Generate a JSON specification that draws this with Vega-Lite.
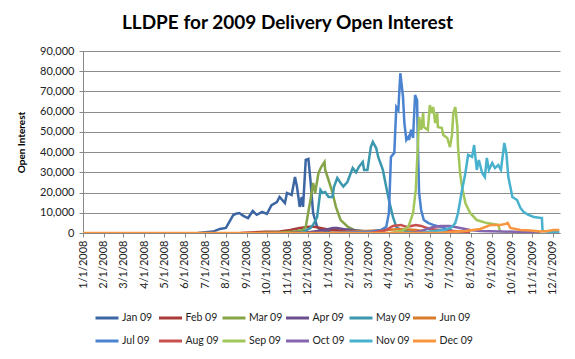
{
"$schema": "https://vega.github.io/schema/vega-lite/v6.json",
"width": 477, "height": 182,
"autosize": {"type": "none"},
"padding": {"left": 83, "top": 51, "right": 15, "bottom": 126},
"background": "white",
"title": {"text": "LLDPE for 2009 Delivery Open Interest", "font": "Lato", "fontSize": 19, "fontWeight": "bold", "color": "#000000", "anchor": "middle", "dx": -34, "offset": 12},
"data": {"values": [
{"s":"Jan 09","d":"2008-06-20","v":0},{"s":"Jan 09","d":"2008-07-13","v":700},{"s":"Jan 09","d":"2008-07-23","v":2000},{"s":"Jan 09","d":"2008-08-01","v":2500},{"s":"Jan 09","d":"2008-08-07","v":6000},{"s":"Jan 09","d":"2008-08-12","v":8900},{"s":"Jan 09","d":"2008-08-16","v":9500},{"s":"Jan 09","d":"2008-08-21","v":9900},{"s":"Jan 09","d":"2008-08-27","v":8500},{"s":"Jan 09","d":"2008-09-03","v":7400},{"s":"Jan 09","d":"2008-09-10","v":10900},{"s":"Jan 09","d":"2008-09-16","v":9000},{"s":"Jan 09","d":"2008-09-24","v":10400},{"s":"Jan 09","d":"2008-10-01","v":9400},{"s":"Jan 09","d":"2008-10-08","v":13800},{"s":"Jan 09","d":"2008-10-16","v":15300},{"s":"Jan 09","d":"2008-10-20","v":17800},{"s":"Jan 09","d":"2008-10-28","v":14800},{"s":"Jan 09","d":"2008-10-31","v":19800},{"s":"Jan 09","d":"2008-11-07","v":18800},{"s":"Jan 09","d":"2008-11-12","v":27700},{"s":"Jan 09","d":"2008-11-15","v":22800},{"s":"Jan 09","d":"2008-11-19","v":12900},{"s":"Jan 09","d":"2008-11-22","v":17800},{"s":"Jan 09","d":"2008-11-24","v":12900},{"s":"Jan 09","d":"2008-11-28","v":36100},{"s":"Jan 09","d":"2008-12-02","v":36600},{"s":"Jan 09","d":"2008-12-05","v":26200},{"s":"Jan 09","d":"2008-12-09","v":9900},{"s":"Jan 09","d":"2008-12-15","v":3000},{"s":"Jan 09","d":"2008-12-20","v":1500},{"s":"Jan 09","d":"2008-12-27","v":800},{"s":"Jan 09","d":"2009-01-04","v":400},
{"s":"Feb 09","d":"2008-08-23","v":0},{"s":"Feb 09","d":"2008-09-07","v":300},{"s":"Feb 09","d":"2008-09-29","v":600},{"s":"Feb 09","d":"2008-10-20","v":800},{"s":"Feb 09","d":"2008-11-05","v":1500},{"s":"Feb 09","d":"2008-11-19","v":2500},{"s":"Feb 09","d":"2008-11-30","v":3000},{"s":"Feb 09","d":"2008-12-09","v":3200},{"s":"Feb 09","d":"2008-12-20","v":2500},{"s":"Feb 09","d":"2009-01-04","v":1500},{"s":"Feb 09","d":"2009-01-19","v":1200},{"s":"Feb 09","d":"2009-02-02","v":500},
{"s":"Mar 09","d":"2008-09-21","v":0},{"s":"Mar 09","d":"2008-10-20","v":300},{"s":"Mar 09","d":"2008-11-12","v":800},{"s":"Mar 09","d":"2008-11-24","v":1500},{"s":"Mar 09","d":"2008-11-28","v":3000},{"s":"Mar 09","d":"2008-12-05","v":16300},{"s":"Mar 09","d":"2008-12-09","v":24700},{"s":"Mar 09","d":"2008-12-12","v":19800},{"s":"Mar 09","d":"2008-12-17","v":29700},{"s":"Mar 09","d":"2008-12-21","v":32600},{"s":"Mar 09","d":"2008-12-26","v":35100},{"s":"Mar 09","d":"2008-12-27","v":31200},{"s":"Mar 09","d":"2009-01-01","v":26200},{"s":"Mar 09","d":"2009-01-07","v":19800},{"s":"Mar 09","d":"2009-01-12","v":12900},{"s":"Mar 09","d":"2009-01-19","v":6400},{"s":"Mar 09","d":"2009-01-30","v":3000},{"s":"Mar 09","d":"2009-02-08","v":1500},{"s":"Mar 09","d":"2009-02-19","v":1000},{"s":"Mar 09","d":"2009-03-01","v":500},
{"s":"Apr 09","d":"2008-11-05","v":0},{"s":"Apr 09","d":"2008-12-05","v":500},{"s":"Apr 09","d":"2008-12-27","v":1500},{"s":"Apr 09","d":"2009-01-07","v":2500},{"s":"Apr 09","d":"2009-01-14","v":2500},{"s":"Apr 09","d":"2009-01-26","v":1800},{"s":"Apr 09","d":"2009-02-11","v":1200},{"s":"Apr 09","d":"2009-03-01","v":800},{"s":"Apr 09","d":"2009-03-26","v":400},
{"s":"May 09","d":"2008-11-19","v":0},{"s":"May 09","d":"2008-11-26","v":800},{"s":"May 09","d":"2008-12-05","v":2500},{"s":"May 09","d":"2008-12-09","v":4000},{"s":"May 09","d":"2008-12-15","v":7900},{"s":"May 09","d":"2008-12-20","v":21300},{"s":"May 09","d":"2008-12-23","v":19800},{"s":"May 09","d":"2008-12-27","v":20300},{"s":"May 09","d":"2009-01-01","v":17800},{"s":"May 09","d":"2009-01-07","v":17800},{"s":"May 09","d":"2009-01-09","v":22700},{"s":"May 09","d":"2009-01-14","v":27200},{"s":"May 09","d":"2009-01-19","v":24700},{"s":"May 09","d":"2009-01-23","v":23000},{"s":"May 09","d":"2009-01-29","v":25200},{"s":"May 09","d":"2009-02-06","v":32100},{"s":"May 09","d":"2009-02-11","v":30000},{"s":"May 09","d":"2009-02-15","v":32600},{"s":"May 09","d":"2009-02-21","v":35100},{"s":"May 09","d":"2009-02-23","v":31200},{"s":"May 09","d":"2009-02-28","v":31200},{"s":"May 09","d":"2009-03-05","v":42500},{"s":"May 09","d":"2009-03-08","v":45000},{"s":"May 09","d":"2009-03-13","v":42000},{"s":"May 09","d":"2009-03-16","v":37600},{"s":"May 09","d":"2009-03-23","v":31200},{"s":"May 09","d":"2009-03-28","v":22700},{"s":"May 09","d":"2009-04-01","v":16300},{"s":"May 09","d":"2009-04-07","v":7900},{"s":"May 09","d":"2009-04-12","v":3000},{"s":"May 09","d":"2009-04-19","v":1500},{"s":"May 09","d":"2009-05-01","v":800},{"s":"May 09","d":"2009-05-11","v":300},
{"s":"Jun 09","d":"2009-01-04","v":0},{"s":"Jun 09","d":"2009-01-26","v":500},{"s":"Jun 09","d":"2009-02-25","v":1000},{"s":"Jun 09","d":"2009-03-28","v":1500},{"s":"Jun 09","d":"2009-04-19","v":2000},{"s":"Jun 09","d":"2009-05-11","v":1500},{"s":"Jun 09","d":"2009-05-26","v":800},
{"s":"Jul 09","d":"2009-01-04","v":0},{"s":"Jul 09","d":"2009-02-02","v":300},{"s":"Jul 09","d":"2009-03-05","v":800},{"s":"Jul 09","d":"2009-03-20","v":1500},{"s":"Jul 09","d":"2009-03-28","v":3000},{"s":"Jul 09","d":"2009-04-01","v":9900},{"s":"Jul 09","d":"2009-04-04","v":37600},{"s":"Jul 09","d":"2009-04-09","v":39600},{"s":"Jul 09","d":"2009-04-12","v":62300},{"s":"Jul 09","d":"2009-04-15","v":60800},{"s":"Jul 09","d":"2009-04-18","v":79000},{"s":"Jul 09","d":"2009-04-22","v":67300},{"s":"Jul 09","d":"2009-04-24","v":54400},{"s":"Jul 09","d":"2009-04-27","v":46000},{"s":"Jul 09","d":"2009-04-30","v":47500},{"s":"Jul 09","d":"2009-05-01","v":46000},{"s":"Jul 09","d":"2009-05-04","v":51000},{"s":"Jul 09","d":"2009-05-07","v":47000},{"s":"Jul 09","d":"2009-05-08","v":54400},{"s":"Jul 09","d":"2009-05-10","v":68200},{"s":"Jul 09","d":"2009-05-13","v":65700},{"s":"Jul 09","d":"2009-05-14","v":46000},{"s":"Jul 09","d":"2009-05-16","v":19800},{"s":"Jul 09","d":"2009-05-19","v":11400},{"s":"Jul 09","d":"2009-05-23","v":6400},{"s":"Jul 09","d":"2009-05-30","v":4900},{"s":"Jul 09","d":"2009-06-06","v":4000},{"s":"Jul 09","d":"2009-06-17","v":3000},{"s":"Jul 09","d":"2009-07-01","v":1500},{"s":"Jul 09","d":"2009-07-08","v":500},
{"s":"Aug 09","d":"2009-03-05","v":0},{"s":"Aug 09","d":"2009-03-28","v":1500},{"s":"Aug 09","d":"2009-04-07","v":3500},{"s":"Aug 09","d":"2009-04-19","v":4000},{"s":"Aug 09","d":"2009-04-27","v":3000},{"s":"Aug 09","d":"2009-05-04","v":3500},{"s":"Aug 09","d":"2009-05-11","v":4000},{"s":"Aug 09","d":"2009-05-19","v":3500},{"s":"Aug 09","d":"2009-06-01","v":2000},{"s":"Aug 09","d":"2009-06-24","v":1200},{"s":"Aug 09","d":"2009-07-16","v":800},{"s":"Aug 09","d":"2009-07-31","v":400},
{"s":"Sep 09","d":"2009-04-04","v":0},{"s":"Sep 09","d":"2009-04-19","v":1000},{"s":"Sep 09","d":"2009-04-30","v":3000},{"s":"Sep 09","d":"2009-05-07","v":9900},{"s":"Sep 09","d":"2009-05-11","v":21300},{"s":"Sep 09","d":"2009-05-14","v":42500},{"s":"Sep 09","d":"2009-05-16","v":57400},{"s":"Sep 09","d":"2009-05-19","v":51000},{"s":"Sep 09","d":"2009-05-22","v":59300},{"s":"Sep 09","d":"2009-05-23","v":52400},{"s":"Sep 09","d":"2009-05-29","v":51000},{"s":"Sep 09","d":"2009-06-01","v":63300},{"s":"Sep 09","d":"2009-06-04","v":59300},{"s":"Sep 09","d":"2009-06-06","v":62300},{"s":"Sep 09","d":"2009-06-09","v":54400},{"s":"Sep 09","d":"2009-06-12","v":59300},{"s":"Sep 09","d":"2009-06-13","v":52400},{"s":"Sep 09","d":"2009-06-19","v":51900},{"s":"Sep 09","d":"2009-06-21","v":48500},{"s":"Sep 09","d":"2009-06-27","v":47000},{"s":"Sep 09","d":"2009-07-01","v":42500},{"s":"Sep 09","d":"2009-07-04","v":48500},{"s":"Sep 09","d":"2009-07-06","v":59300},{"s":"Sep 09","d":"2009-07-09","v":62300},{"s":"Sep 09","d":"2009-07-12","v":52400},{"s":"Sep 09","d":"2009-07-13","v":42500},{"s":"Sep 09","d":"2009-07-16","v":29700},{"s":"Sep 09","d":"2009-07-19","v":22700},{"s":"Sep 09","d":"2009-07-24","v":14800},{"s":"Sep 09","d":"2009-07-31","v":9900},{"s":"Sep 09","d":"2009-08-10","v":6400},{"s":"Sep 09","d":"2009-08-25","v":4900},{"s":"Sep 09","d":"2009-09-11","v":4000},{"s":"Sep 09","d":"2009-09-14","v":500},
{"s":"Oct 09","d":"2009-05-04","v":0},{"s":"Oct 09","d":"2009-05-19","v":1000},{"s":"Oct 09","d":"2009-06-06","v":3000},{"s":"Oct 09","d":"2009-06-17","v":3500},{"s":"Oct 09","d":"2009-07-01","v":3500},{"s":"Oct 09","d":"2009-07-16","v":2500},{"s":"Oct 09","d":"2009-07-31","v":1500},{"s":"Oct 09","d":"2009-08-15","v":1000},{"s":"Oct 09","d":"2009-09-14","v":800},{"s":"Oct 09","d":"2009-10-14","v":500},{"s":"Oct 09","d":"2009-11-13","v":400},
{"s":"Nov 09","d":"2009-05-19","v":0},{"s":"Nov 09","d":"2009-06-01","v":800},{"s":"Nov 09","d":"2009-06-24","v":1500},{"s":"Nov 09","d":"2009-07-04","v":3000},{"s":"Nov 09","d":"2009-07-09","v":5000},{"s":"Nov 09","d":"2009-07-13","v":9900},{"s":"Nov 09","d":"2009-07-19","v":21300},{"s":"Nov 09","d":"2009-07-24","v":29700},{"s":"Nov 09","d":"2009-07-28","v":38600},{"s":"Nov 09","d":"2009-08-03","v":37600},{"s":"Nov 09","d":"2009-08-06","v":43500},{"s":"Nov 09","d":"2009-08-10","v":31200},{"s":"Nov 09","d":"2009-08-13","v":36100},{"s":"Nov 09","d":"2009-08-18","v":29700},{"s":"Nov 09","d":"2009-08-22","v":27700},{"s":"Nov 09","d":"2009-08-25","v":37100},{"s":"Nov 09","d":"2009-08-28","v":31200},{"s":"Nov 09","d":"2009-09-02","v":34600},{"s":"Nov 09","d":"2009-09-06","v":32100},{"s":"Nov 09","d":"2009-09-11","v":33600},{"s":"Nov 09","d":"2009-09-15","v":31200},{"s":"Nov 09","d":"2009-09-20","v":44500},{"s":"Nov 09","d":"2009-09-23","v":39600},{"s":"Nov 09","d":"2009-09-26","v":27700},{"s":"Nov 09","d":"2009-10-02","v":17800},{"s":"Nov 09","d":"2009-10-09","v":16300},{"s":"Nov 09","d":"2009-10-14","v":12400},{"s":"Nov 09","d":"2009-10-19","v":10400},{"s":"Nov 09","d":"2009-10-26","v":8900},{"s":"Nov 09","d":"2009-11-03","v":7900},{"s":"Nov 09","d":"2009-11-15","v":7400},{"s":"Nov 09","d":"2009-11-16","v":1000},{"s":"Nov 09","d":"2009-11-28","v":500},{"s":"Nov 09","d":"2009-12-11","v":500},
{"s":"Dec 09","d":"2008-01-01","v":0},{"s":"Dec 09","d":"2009-06-17","v":0},{"s":"Dec 09","d":"2009-07-01","v":500},{"s":"Dec 09","d":"2009-07-24","v":1000},{"s":"Dec 09","d":"2009-08-15","v":2000},{"s":"Dec 09","d":"2009-08-31","v":4000},{"s":"Dec 09","d":"2009-09-14","v":4000},{"s":"Dec 09","d":"2009-09-22","v":4500},{"s":"Dec 09","d":"2009-09-25","v":5000},{"s":"Dec 09","d":"2009-09-29","v":2500},{"s":"Dec 09","d":"2009-10-14","v":1500},{"s":"Dec 09","d":"2009-10-29","v":1200},{"s":"Dec 09","d":"2009-11-13","v":800},{"s":"Dec 09","d":"2009-11-24","v":1000},{"s":"Dec 09","d":"2009-12-02","v":1500},{"s":"Dec 09","d":"2009-12-11","v":1500}
]},
"mark": {"type": "line", "strokeWidth": 2.5, "clip": true},
"encoding": {
  "x": {"field": "d", "type": "temporal",
    "scale": {"type": "utc", "domain": ["2008-01-01", "2009-12-12"]},
    "axis": {"title": null, "grid": false, "format": "%-m/%-d/%Y", "labelAngle": 270, "labelFontSize": 11, "labelColor": "#222222", "labelFont": "Lato", "tickCount": {"interval": "month", "step": 1}, "labelOverlap": false, "labelFlush": false, "tickSize": 4, "tickColor": "#888888", "domainColor": "#888888", "labelPadding": 3}},
  "y": {"field": "v", "type": "quantitative",
    "scale": {"domain": [0, 90000], "nice": false},
    "axis": {"title": "Open Interest", "titleFont": "Lato", "titleFontSize": 10, "titleFontWeight": "bold", "titleColor": "#000000", "titlePadding": 13, "format": ",.0f", "values": [0,10000,20000,30000,40000,50000,60000,70000,80000,90000], "labelFontSize": 11, "labelColor": "#222222", "labelFont": "Lato", "gridColor": "#8c8c8c", "domainColor": "#888888", "tickColor": "#888888", "tickSize": 4, "labelPadding": 5}},
  "color": {"field": "s", "type": "nominal",
    "scale": {"domain": ["Jan 09","Feb 09","Mar 09","Apr 09","May 09","Jun 09","Jul 09","Aug 09","Sep 09","Oct 09","Nov 09","Dec 09"],
      "range": ["#3B66A3","#A83A38","#84A447","#6B4E8C","#3A97AE","#DA7A2C","#4A83D0","#C8504E","#A2C65A","#8566AE","#47B1CE","#F8963F"]},
    "legend": {"title": null, "orient": "none", "legendX": 11, "legendY": 254, "direction": "horizontal", "columns": 6, "symbolType": "stroke", "symbolSize": 529, "symbolStrokeWidth": 3, "labelFont": "Lato", "labelFontSize": 10.5, "labelColor": "#222222", "labelOffset": 2, "columnPadding": -4.5, "rowPadding": 4, "gridAlign": "all"}}
},
"config": {"view": {"stroke": null}, "font": "Lato"}
}
